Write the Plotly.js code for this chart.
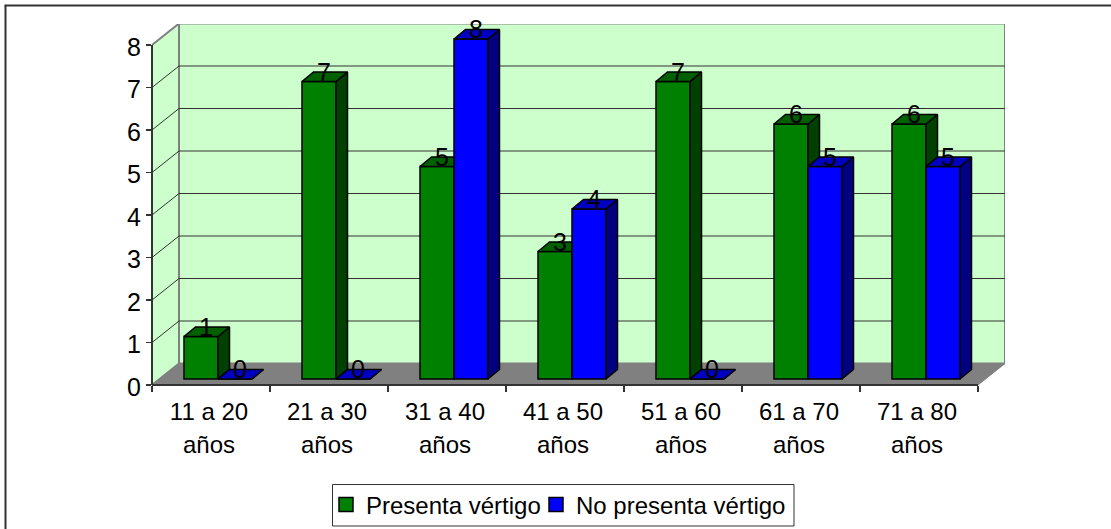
<!DOCTYPE html>
<html>
<head>
<meta charset="utf-8">
<script src="https://cdn.plot.ly/plotly-3.0.1.min.js"></script>
<style>html,body{margin:0;padding:0;background:#fff}</style>
</head>
<body>
<div id="chart" style="width:1111px;height:529px"></div>
<script>
// Vértigo por grupo de edad
const categories = ['11 a 20', '21 a 30', '31 a 40', '41 a 50', '51 a 60', '61 a 70', '71 a 80'];
const categoryUnit = 'años';
const seriesNames = ['Presenta vértigo', 'No presenta vértigo'];
const presenta = [1, 7, 5, 3, 7, 6, 6];
const noPresenta = [0, 0, 8, 4, 0, 5, 5];
const yTicks = [0, 1, 2, 3, 4, 5, 6, 7, 8];

// Plot frame in pixels and the size of one axis unit
const W = 1111, H = 529;
const plotL = 152, plotR = 1005, plotT = 24, plotB = 385;
const pxPerCat = 118, pxPerVal = 42.5;
const xRange = [0, (plotR - plotL) / pxPerCat];
const yRange = [0, (plotB - plotT) / pxPerVal];

// Oblique depth of the walls and of the bars, in axis units
const wallDx = 27 / pxPerCat, wallDy = 21.5 / pxPerVal;
const barDx = 11.5 / pxPerCat, barDy = 9.5 / pxPerVal;
const barBase = 6 / pxPerVal;
const barW = 34 / pxPerCat;
const greenStart = 32 / pxPerCat;
const blueStart = greenStart + barW;
const nCat = categories.length;
const yMax = yTicks[yTicks.length - 1];

const px = v => (v - plotL) / (plotR - plotL);
const py = v => (plotB - v) / (plotB - plotT);

const FONT = 'Liberation Sans, Arial, sans-serif';
const WALL = '#CCFFCC', FRAME = '#808080', DARK = '#333333';

function polygons(values, start, build) {
  const xs = [], ys = [];
  values.forEach((v, i) => {
    build(i + start, v + barBase).forEach(p => { xs.push(p[0]); ys.push(p[1]); });
    xs.push(null); ys.push(null);
  });
  return { x: xs, y: ys };
}
const sideFace = (l, t) => [[l + barW, barBase], [l + barW + barDx, barBase + barDy], [l + barW + barDx, t + barDy], [l + barW, t], [l + barW, barBase]];
const topFace = (l, t) => [[l, t], [l + barDx, t + barDy], [l + barW + barDx, t + barDy], [l + barW, t], [l, t]];

function faceTrace(values, start, build, color, axes) {
  return Object.assign({
    type: 'scatter', mode: 'lines', fill: 'toself', fillcolor: color,
    line: { color: '#000', width: 1.5 }, hoverinfo: 'skip', showlegend: false
  }, polygons(values, start, build), axes);
}
function barTrace(values, start, color, name, axes) {
  return Object.assign({
    type: 'bar', name: name, x: values.map((_, i) => i), y: values, base: barBase,
    offset: start, width: barW, marker: { color: color, line: { color: '#000', width: 1.5 } },
    showlegend: false
  }, axes);
}
function labelTrace(values, start, axes) {
  return Object.assign({
    type: 'scatter', mode: 'text',
    x: values.map((_, i) => i + start + barW / 2 + 5 / pxPerCat),
    y: values.map(v => v + barBase + 7 / pxPerVal),
    text: values.map(String), textposition: 'middle center',
    textfont: { family: FONT, size: 25, color: '#000' },
    cliponaxis: false, hoverinfo: 'skip', showlegend: false
  }, axes);
}
function legendTrace(name, color, legendId) {
  return {
    type: 'scatter', mode: 'markers', name: name, x: [null], y: [null], legend: legendId,
    marker: { symbol: 'square', size: 14, color: color, line: { color: '#000', width: 1.5 } }
  };
}

const below = { xaxis: 'x', yaxis: 'y' };
const above = { xaxis: 'x2', yaxis: 'y2' };

const data = [
  barTrace(presenta, greenStart, '#008000', seriesNames[0], below),
  faceTrace(presenta, greenStart, sideFace, '#004000', below),
  faceTrace(presenta, greenStart, topFace, '#006000', below),
  barTrace(noPresenta, blueStart, '#0000FF', seriesNames[1], above),
  faceTrace(noPresenta, blueStart, sideFace, '#000080', above),
  faceTrace(noPresenta, blueStart, topFace, '#0000C0', above),
  labelTrace(presenta, greenStart, above),
  labelTrace(noPresenta, blueStart, above),
  legendTrace(seriesNames[0], '#008000', 'legend'),
  legendTrace(seriesNames[1], '#0000FF', 'legend2')
];

const shapes = [];
function path(d, fill, color, width) {
  shapes.push({
    type: 'path', xref: 'x', yref: 'y', layer: 'below', path: d,
    fillcolor: fill || 'rgba(0,0,0,0)', line: { color: color, width: width }
  });
}
const backR = nCat + wallDx, backB = wallDy, backT = yMax + wallDy;
// Back wall, side wall and floor
path(`M${wallDx},${backB}L${backR},${backB}L${backR},${backT}L${wallDx},${backT}Z`, WALL, FRAME, 2);
path(`M0,0L${wallDx},${backB}L${wallDx},${backT}L0,${yMax}Z`, WALL, FRAME, 2);
// Gridlines run along the side wall and across the back wall
yTicks.slice(1, -1).forEach(k => {
  path(`M0,${k}L${wallDx},${k + wallDy}L${backR},${k + wallDy}`, null, DARK, 1);
});
path(`M0,0L${wallDx},${backB}L${backR},${backB}L${nCat},0Z`, FRAME, FRAME, 1);

// Value axis line, category axis line, outer rule and legend box
shapes.push({ type: 'line', xref: 'paper', yref: 'y', x0: 0, x1: 0, y0: 0, y1: yMax, line: { color: DARK, width: 2 } });
shapes.push({ type: 'line', xref: 'x', yref: 'paper', x0: 0, x1: nCat, y0: 0, y1: 0, line: { color: DARK, width: 2 } });
shapes.push({ type: 'line', xref: 'paper', yref: 'paper', x0: px(4.5), x1: px(W), y0: py(5.5), y1: py(5.5), line: { color: DARK, width: 2 } });
shapes.push({ type: 'line', xref: 'paper', yref: 'paper', x0: px(5.5), x1: px(5.5), y0: py(5.5), y1: py(H), line: { color: DARK, width: 2 } });
shapes.push({ type: 'rect', xref: 'paper', yref: 'paper', x0: px(332.5), x1: px(794), y0: py(484.5), y1: py(526), line: { color: DARK, width: 1 }, fillcolor: 'rgba(0,0,0,0)' });

const legendBase = {
  orientation: 'h', y: py(505), xanchor: 'left', yanchor: 'middle',
  font: { family: FONT, size: 24, color: '#000' }, itemsizing: 'trace',
  bgcolor: 'rgba(0,0,0,0)', borderwidth: 0
};

const layout = {
  width: W, height: H,
  paper_bgcolor: '#fff', plot_bgcolor: 'rgba(0,0,0,0)',
  margin: { l: plotL, r: W - plotR, t: plotT, b: H - plotB, pad: 0, autoexpand: false },
  barmode: 'overlay',
  font: { family: FONT, color: '#000' },
  xaxis: {
    type: 'linear', range: xRange, tickmode: 'array',
    tickvals: categories.map((_, i) => i).concat(nCat),
    showticklabels: false, ticks: 'outside', ticklen: 6, tickwidth: 1.5, tickcolor: DARK,
    showgrid: false, zeroline: false, showline: false
  },
  yaxis: {
    type: 'linear', range: yRange, tickmode: 'array', tickvals: yTicks,
    ticktext: yTicks.map(String), ticks: 'outside', ticklen: 5, tickwidth: 1.5, tickcolor: DARK,
    tickfont: { family: FONT, size: 25, color: '#000' }, ticklabelshift: 2,
    showgrid: false, zeroline: false, showline: false
  },
  xaxis2: {
    type: 'linear', overlaying: 'x', anchor: 'y2', side: 'bottom', range: xRange, tickmode: 'array',
    tickvals: categories.map((_, i) => i + 0.5),
    ticktext: categories.map(c => `<span style="font-size:24px">${c}</span><br><span style="font-size:24px">${categoryUnit}</span>`),
    tickfont: { family: FONT, size: 25, color: '#000' }, tickangle: 0,
    ticks: '', ticklabelstandoff: 9, ticklabelshift: -2,
    showgrid: false, zeroline: false, showline: false
  },
  yaxis2: {
    type: 'linear', overlaying: 'y', anchor: 'x2', range: yRange,
    visible: false, showgrid: false, zeroline: false
  },
  legend: Object.assign({ x: px(326) }, legendBase),
  legend2: Object.assign({ x: px(536) }, legendBase),
  shapes: shapes,
  showlegend: true
};

Plotly.newPlot('chart', data, layout, { displayModeBar: false, staticPlot: true });
</script>
</body>
</html>
